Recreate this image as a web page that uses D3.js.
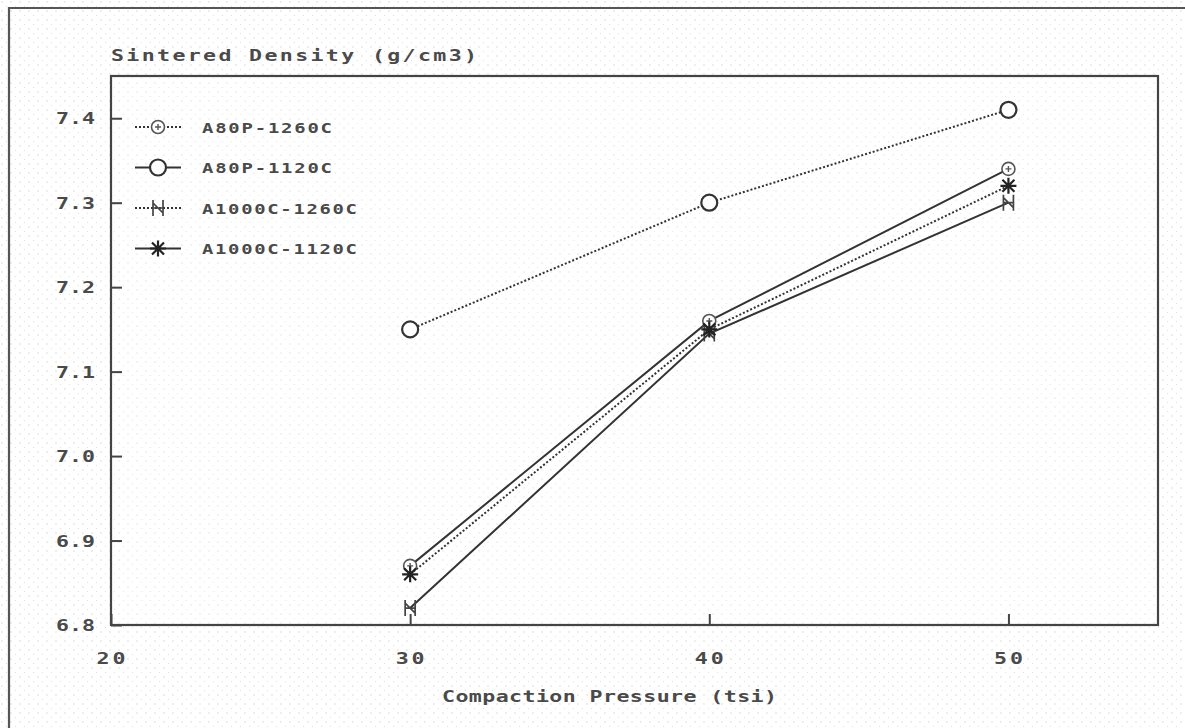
<!DOCTYPE html>
<html>
<head>
<meta charset="utf-8">
<script src="https://cdn.jsdelivr.net/npm/d3@7"></script>
<style>
  body { margin: 0; background: #fff; overflow: hidden; }
  svg { display: block; }
  text { font-family: "DejaVu Sans Mono", monospace; font-weight: bold; fill: #4a4a4a; }
</style>
</head>
<body>
<div id="canvas"></div>
<script>
// data
var pressure = [30, 40, 50];
var seriesNames = ['A80P-1260C', 'A80P-1120C', 'A1000C-1260C', 'A1000C-1120C'];
var a80p1260 = [6.87, 7.16, 7.34];
var a80p1120 = [7.15, 7.30, 7.41];
var a1000c1260 = [6.82, 7.145, 7.30];
var a1000c1120 = [6.86, 7.15, 7.32];
var xTicks = [20, 30, 40, 50];
var yTicks = [6.8, 6.9, 7.0, 7.1, 7.2, 7.3, 7.4];

var W = 1185, H = 728;
var m = {t:76, r:27, b:103, l:111};
var w = W - m.l - m.r,
    h = H - m.t - m.b;

var svg = d3.select('#canvas')
    .append('svg')
    .attr('width', W)
    .attr('height', H);

// faint halftone dots like the scan
var pat = svg.append('defs').append('pattern')
    .attr('id', 'dots')
    .attr('width', 9).attr('height', 9)
    .attr('patternUnits', 'userSpaceOnUse');
pat.append('circle').attr('cx', 2).attr('cy', 2).attr('r', 0.7).attr('fill', '#d0d0d0');
pat.append('circle').attr('cx', 6.5).attr('cy', 6.5).attr('r', 0.6).attr('fill', '#dadada');
svg.append('rect').attr('width', W).attr('height', H).attr('fill', 'url(#dots)');

// outer frame (right and bottom edges run off the page)
svg.append('path')
    .attr('d', 'M9,' + H + 'V8H' + W)
    .attr('fill', 'none')
    .attr('stroke', '#555')
    .attr('stroke-width', 2.2);

// wide plotter-style text: stretched glyphs, fitted to the width seen in the scan
var SX = 1.35;
function wideText(parent, x, y, str, size, width, anchor) {
    var g = parent.append('g')
        .attr('transform', 'translate(' + x + ',' + y + ') scale(' + SX + ',1)');
    g.append('text')
        .attr('text-anchor', anchor || 'start')
        .attr('textLength', width / SX)
        .attr('lengthAdjust', 'spacing')
        .style('font-size', size + 'px')
        .text(str);
    return g;
}

var plot = svg.append('g')
    .attr('transform', 'translate(' + m.l + ',' + m.t + ')');

var scaleX = d3.scaleLinear().domain([20, 55]).range([0, w]);
var scaleY = d3.scaleLinear().domain([6.8, 7.45]).range([h, 0]);

plot.append('rect')
    .attr('width', w).attr('height', h)
    .attr('fill', 'rgba(255,255,255,0.3)')
    .attr('stroke', '#444')
    .attr('stroke-width', 2.2);

// axes: ticks point inward
var axisY = d3.axisRight(scaleY).tickValues(yTicks).tickSize(11).tickFormat('');
var axisX = d3.axisTop(scaleX).tickValues(xTicks).tickSize(11).tickFormat('');
plot.append('g').attr('class', 'axis-y').call(axisY);
plot.append('g').attr('class', 'axis-x').attr('transform', 'translate(0,' + h + ')').call(axisX);
plot.selectAll('.domain').remove();
plot.selectAll('.tick line').attr('stroke', '#444').attr('stroke-width', 2);

yTicks.forEach(function(d){
    wideText(plot, -16, scaleY(d) + 6, d3.format('.1f')(d), 16, 39, 'end');
});
xTicks.forEach(function(d){
    wideText(plot, scaleX(d), h + 39, String(d), 16, 29, 'middle');
});

wideText(svg, 111, 61, 'Sintered Density (g/cm3)', 16, 366);
wideText(svg, 442, 702, 'Compaction Pressure (tsi)', 16, 335);

// markers
function drawMarker(g, type) {
    if (type === 'smallCircle') {
        g.append('circle').attr('r', 6.5).attr('fill', '#fff').attr('stroke', '#555').attr('stroke-width', 1.6);
        g.append('path').attr('d', 'M-3,0H3M0,-3V3').attr('stroke', '#555').attr('stroke-width', 1.4);
    } else if (type === 'circle') {
        g.append('circle').attr('r', 8).attr('fill', '#fff').attr('stroke', '#333').attr('stroke-width', 2.2);
    } else if (type === 'star') {
        g.append('path')
            .attr('d', 'M-8,0H8M0,-8V8M-6,-6L6,6M-6,6L6,-6')
            .attr('stroke', '#222').attr('stroke-width', 2.2);
    } else if (type === 'bowtie') {
        g.append('path')
            .attr('d', 'M-5,-8V8M5,-8V8M-5,0H5M-5,-5L5,5')
            .attr('stroke', '#444').attr('stroke-width', 1.7);
    }
}

var series = [
    {name: seriesNames[0], values: a80p1260, marker: 'smallCircle', plotDash: null, legendDash: '2,2', textLen: 130},
    {name: seriesNames[1], values: a80p1120, marker: 'circle', plotDash: '2,2', legendDash: null, textLen: 130},
    {name: seriesNames[2], values: a1000c1260, marker: 'bowtie', plotDash: null, legendDash: '2,2', textLen: 155},
    {name: seriesNames[3], values: a1000c1120, marker: 'star', plotDash: '2,2', legendDash: null, textLen: 155}
];

var line = d3.line()
    .x(function(d){ return scaleX(d.x); })
    .y(function(d){ return scaleY(d.y); });

series.forEach(function(s){
    var pts = pressure.map(function(p, i){ return {x: p, y: s.values[i]}; });
    plot.append('path')
        .datum(pts)
        .attr('d', line)
        .attr('fill', 'none')
        .attr('stroke', '#333')
        .attr('stroke-width', 2)
        .attr('stroke-dasharray', s.plotDash);
    s.pts = pts;
});

series.forEach(function(s){
    s.pts.forEach(function(d){
        var g = plot.append('g')
            .attr('transform', 'translate(' + scaleX(d.x) + ',' + scaleY(d.y) + ')');
        drawMarker(g, s.marker);
    });
});

// legend
var legend = svg.append('g').attr('transform', 'translate(135,127)');
series.forEach(function(s, i){
    var row = legend.append('g').attr('transform', 'translate(0,' + (i * 40.5) + ')');
    row.append('line')
        .attr('x1', 0).attr('x2', 46)
        .attr('stroke', '#333').attr('stroke-width', 2)
        .attr('stroke-dasharray', s.legendDash);
    drawMarker(row.append('g').attr('transform', 'translate(23,0)'), s.marker);
    wideText(row, 67, 5.5, s.name, 14, s.textLen);
});
</script>
</body>
</html>
